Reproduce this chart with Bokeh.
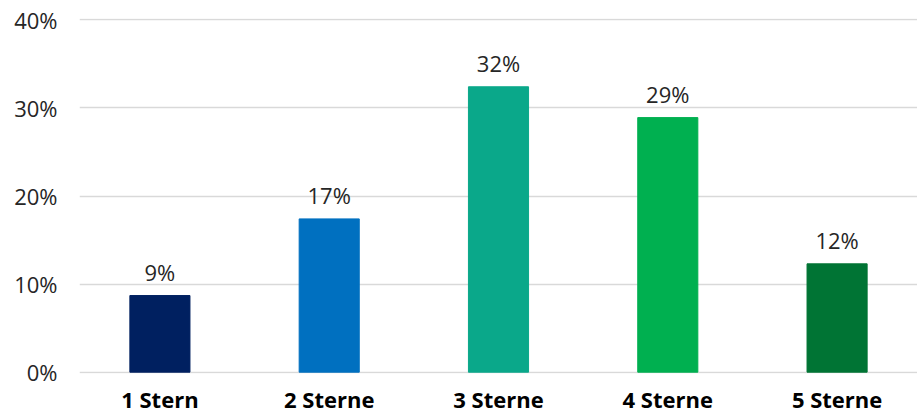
from bokeh.plotting import figure
from bokeh.models import ColumnDataSource, Range1d, FactorRange, FixedTicker, CustomJSTickFormatter
from bokeh.core.properties import value
from bokeh.embed import file_html
from bokeh.resources import INLINE

categories = ["1 Stern", "2 Sterne", "3 Sterne", "4 Sterne", "5 Sterne"]
values = [8.7, 17.4, 32.4, 28.9, 12.3]
labels = ["9%", "17%", "32%", "29%", "12%"]
colors = ["#002060", "#0070C0", "#0AA88A", "#00B050", "#007434"]
y_ticks = [0, 10, 20, 30, 40]

src = ColumnDataSource(dict(cat=categories, val=values, lab=labels, col=colors))

x_range = FactorRange(factors=categories, range_padding=-0.025, range_padding_units="absolute")

p = figure(x_range=x_range, y_range=Range1d(-0.15, 40.15), width=917, height=416,
           output_backend="svg", toolbar_location=None,
           min_border_left=79, min_border_right=0, min_border_top=18, min_border_bottom=43)
p.outline_line_color = None
p.background_fill_color = "white"

p.vbar(x="cat", top="val", bottom=0, width=0.355, color="col", source=src)
p.text(x="cat", y="val", text="lab", source=src, text_align="center", text_baseline="bottom",
       y_offset=-9, text_font=value("Open Sans"), text_font_size="22px", text_color="#262626")

p.xgrid.grid_line_color = None
p.ygrid.grid_line_color = "#D9D9D9"
p.ygrid.grid_line_width = 1.5
p.yaxis.ticker = FixedTicker(ticks=y_ticks)
p.yaxis.formatter = CustomJSTickFormatter(code="return tick + '%';")
p.yaxis.axis_line_color = None
p.yaxis.major_tick_line_color = None
p.yaxis.minor_tick_line_color = None
p.yaxis.major_tick_out = 0
p.yaxis.major_tick_in = 0
p.yaxis.major_label_standoff = 22
p.yaxis.major_label_text_font = "Open Sans"
p.yaxis.major_label_text_font_size = "22px"
p.yaxis.major_label_text_color = "#262626"

p.xaxis.axis_line_color = None
p.xaxis.major_tick_line_color = None
p.xaxis.minor_tick_line_color = None
p.xaxis.major_tick_out = 0
p.xaxis.major_tick_in = 0
p.xaxis.major_label_standoff = 10
p.xaxis.major_label_text_font = "Open Sans"
p.xaxis.major_label_text_font_style = "bold"
p.xaxis.major_label_text_font_size = "22px"
p.xaxis.major_label_text_color = "#000000"

open("out.html", "w").write(file_html(p, INLINE))
